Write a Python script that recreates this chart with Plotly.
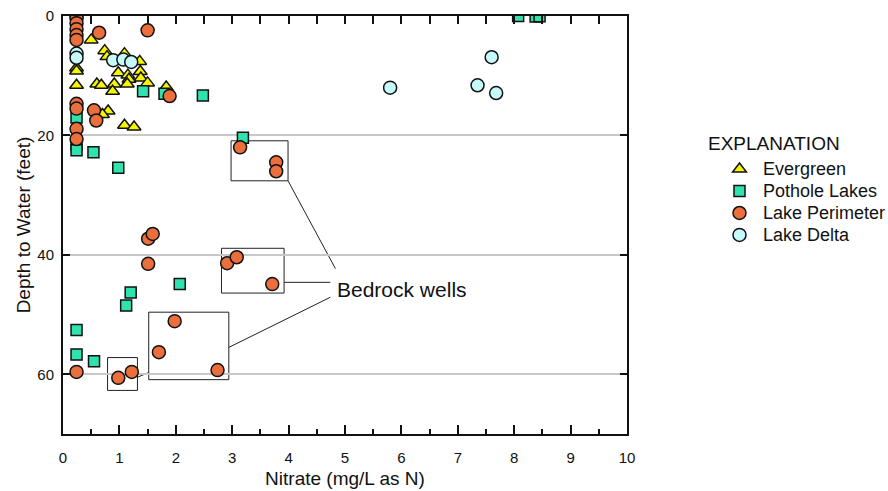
import plotly.graph_objects as go

# ---- data (nitrate mg/L as N, depth to water ft) ----
evergreen_x = [0.50, 0.74, 0.78, 1.09, 1.36, 0.24, 0.24, 0.98, 1.15, 1.37, 1.38, 1.17,
               0.24, 0.60, 0.68, 0.91, 1.14, 1.50, 0.88, 1.83, 0.80, 0.70, 1.09, 1.26]
evergreen_y = [4.0, 5.8, 6.8, 6.3, 7.6, 8.7, 9.2, 9.5, 9.9, 9.3, 10.4, 10.6,
               11.6, 11.4, 11.6, 11.4, 11.4, 11.2, 12.6, 11.9, 15.9, 16.5, 18.3, 18.6]

pothole_x = [8.07, 8.38, 8.45, 1.42, 1.80, 2.48, 0.24, 0.24, 0.24, 0.54, 0.98, 3.19,
             2.07, 1.20, 1.12, 0.24, 0.24, 0.55]
pothole_y = [0.0, 0.1, 0.05, 12.6, 13.0, 13.3, 17.0, 21.5, 22.5, 22.8, 25.4, 20.4,
             44.9, 46.3, 48.5, 52.6, 56.7, 57.8]

perimeter_x = [0.24, 0.24, 0.24, 0.24, 0.24, 0.24, 0.64, 1.50, 1.89, 0.24, 0.24, 0.55,
               0.59, 0.24, 0.24, 3.14, 3.78, 3.78, 1.51, 1.59, 1.51, 2.91, 3.08, 3.71,
               1.98, 1.70, 2.74, 0.24, 0.98, 1.22]
perimeter_y = [0.0, 0.4, 1.2, 2.2, 3.2, 4.0, 2.8, 2.4, 13.4, 14.7, 15.5, 15.8,
               17.5, 18.9, 20.6, 22.0, 24.5, 26.0, 37.3, 36.5, 41.5, 41.4, 40.4, 44.9,
               51.1, 56.3, 59.3, 59.6, 60.6, 59.6]

delta_x = [0.24, 0.24, 0.89, 1.07, 1.21, 5.80, 7.60, 7.35, 7.68]
delta_y = [6.3, 7.0, 7.4, 7.3, 7.7, 12.0, 6.9, 11.6, 12.9]

x_ticks = list(range(0, 11))
y_ticks = [0, 20, 40, 60]

# Bedrock-well boxes (x0, x1, y0, y1) in data units
bedrock_boxes = [(2.98, 3.99, 20.9, 27.6), (2.81, 3.92, 38.9, 46.4),
                 (1.52, 2.94, 49.6, 60.9), (0.79, 1.32, 57.2, 62.7)]
leader_lines = [(3.99, 27.6, 4.83, 42.3), (3.92, 44.6, 4.74, 44.6),
                (2.94, 55.5, 4.74, 47.1), (1.32, 60.5, 1.52, 59.7)]

FONT = "Liberation Sans, Arial, sans-serif"

fig = go.Figure()
series = [
    ("Evergreen", evergreen_x, evergreen_y, "triangle-up", "#F5F500", 12),
    ("Pothole Lakes", pothole_x, pothole_y, "square", "#2FE3AE", 11),
    ("Lake Perimeter", perimeter_x, perimeter_y, "circle", "#EB6F3D", 13),
    ("Lake Delta", delta_x, delta_y, "circle", "#C6FAFA", 13),
]
for name, xs, ys, sym, col, sz in series:
    fig.add_trace(go.Scatter(
        x=xs, y=ys, mode="markers", legendgroup=name,
        name='<span style="font-size:18px">%s</span>' % name,
        marker=dict(symbol=sym, color=col, size=sz,
                    line=dict(color="#111111", width=1.5)),
    ))

# top axis ticks (every 0.5)
fig.add_trace(go.Scatter(x=[0, 10], y=[0, 0], xaxis="x2", mode="markers",
                         marker=dict(opacity=0), showlegend=False, hoverinfo="skip"))

shapes = []
for x0, x1, y0, y1 in bedrock_boxes:
    shapes.append(dict(type="rect", xref="x", yref="y", x0=x0, x1=x1, y0=y0, y1=y1,
                       line=dict(color="#222222", width=1), layer="below"))
for x0, y0, x1, y1 in leader_lines:
    shapes.append(dict(type="line", xref="x", yref="y", x0=x0, y0=y0, x1=x1, y1=y1,
                       line=dict(color="#222222", width=1), layer="below"))

fig.update_layout(
    width=888, height=491,
    margin=dict(l=63, r=261, t=16, b=57, autoexpand=False),
    paper_bgcolor="white", plot_bgcolor="white",
    font=dict(family=FONT, color="#111111", size=15),
    shapes=shapes,
    annotations=[
        dict(text="Bedrock wells", x=4.83, y=45.8, xref="x", yref="y",
             xanchor="left", yanchor="middle", showarrow=False,
             font=dict(size=21, family=FONT, color="#111111")),
        dict(text="EXPLANATION", x=(706 - 63) / 564, y=(434 - 143) / 418,
             xref="paper", yref="paper", xanchor="left", yanchor="middle",
             showarrow=False, font=dict(size=19, family=FONT, color="#111111")),
    ],
    xaxis=dict(range=[0, 10], tickvals=x_ticks, ticks="inside", ticklen=9,
               tickwidth=1.5, tickcolor="#111111", automargin=False,
               showline=True, linecolor="#111111", linewidth=2, showgrid=False,
               zeroline=False, tickfont=dict(size=15), ticklabelstandoff=9,
               minor=dict(dtick=0.5, ticks="inside", ticklen=5, tickwidth=1.5,
                          tickcolor="#111111", showgrid=False),
               title=dict(text="Nitrate (mg/L as N)", font=dict(size=19), standoff=7)),
    xaxis2=dict(range=[0, 10], overlaying="x", side="top", dtick=0.5, tick0=0,
                ticks="inside", ticklen=8, tickwidth=1.5, tickcolor="#111111",
                showticklabels=False, showline=True, linecolor="#111111",
                linewidth=2, showgrid=False, zeroline=False, automargin=False),
    yaxis=dict(range=[70, 0], tickvals=y_ticks, ticks="inside", ticklen=7,
               tickwidth=1.5, tickcolor="#111111", mirror="ticks", automargin=False,
               showline=True, linecolor="#111111", linewidth=2,
               showgrid=True, gridcolor="#C8C8C8", gridwidth=1.5, zeroline=False,
               tickfont=dict(size=15), ticklabelstandoff=4,
               title=dict(text="Depth to Water (feet)", font=dict(size=19), standoff=2)),
    legend=dict(x=(716 - 63) / 564, y=(434 - 153) / 418, xanchor="left", yanchor="top",
                font=dict(size=14.6), tracegroupgap=0, itemwidth=37,
                bgcolor="rgba(0,0,0,0)"),
    showlegend=True,
)

fig.write_html("out.html")
